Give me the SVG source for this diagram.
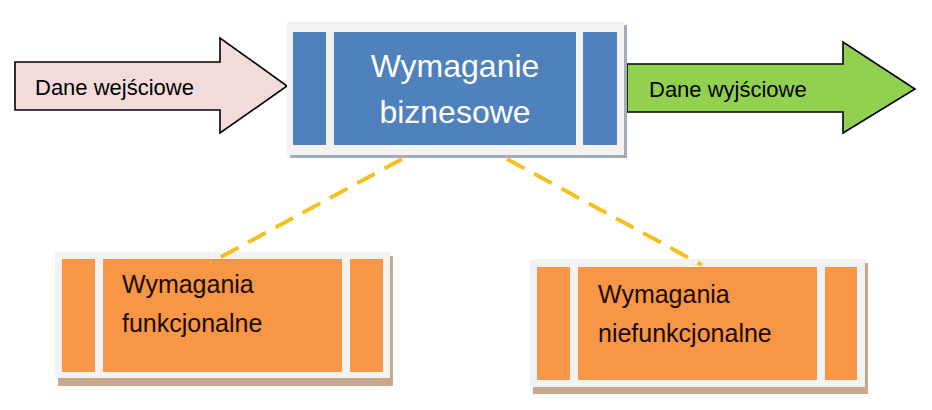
<svg xmlns="http://www.w3.org/2000/svg" width="932" height="410" viewBox="0 0 932 410">
<style>
.frame{fill:#f2f2f2}
.blue{fill:#4f81bd}
.orange{fill:#f79646}
.arrow{stroke:#000;stroke-width:1.6;stroke-linejoin:miter}
.t{font-family:"Liberation Sans",Arial,sans-serif}
.conn{stroke:#f5c01e;stroke-width:4;stroke-dasharray:20 11;fill:none}
</style>
<rect width="932" height="410" fill="#fff"/>
<g id="input">
<polygon class="arrow" fill="#f2dcdb" points="15,62 220,62 220,38 287,86 220,133 220,110 15,110"/>
<text class="t" x="35" y="95" font-size="22" fill="#000">Dane wejściowe</text>
</g>
<g id="output">
<polygon class="arrow" fill="#92d050" points="627,64 843,64 843,42 915,89 843,133 843,112 627,112"/>
<text class="t" x="649" y="97" font-size="22" fill="#000">Dane wyjściowe</text>
</g>
<g id="business">
<rect x="290" y="25" width="337" height="133" fill="#a3acb9"/>
<rect class="frame" x="287" y="22" width="337" height="133"/>
<rect class="blue" x="293" y="32" width="33" height="113"/>
<rect class="blue" x="334" y="32" width="242" height="113"/>
<rect class="blue" x="583" y="32" width="34" height="113"/>
<text class="t" x="455" y="77" font-size="32" fill="#fff" text-anchor="middle">Wymaganie</text>
<text class="t" x="455" y="123" font-size="32" fill="#fff" text-anchor="middle">biznesowe</text>
</g>
<g id="functional">
<rect x="58" y="256" width="335" height="130" fill="#c9a78c"/>
<rect class="frame" x="55" y="252" width="335" height="126"/>
<rect class="orange" x="62" y="259" width="33" height="113"/>
<rect class="orange" x="103" y="259" width="239" height="113"/>
<rect class="orange" x="350" y="259" width="33" height="113"/>
<text class="t" x="122" y="293" font-size="25" fill="#1a0a00">Wymagania</text>
<text class="t" x="122" y="332" font-size="25" fill="#1a0a00">funkcjonalne</text>
</g>
<g id="nonfunctional">
<rect x="533" y="263" width="335" height="131" fill="#c9a78c"/>
<rect class="frame" x="530" y="259" width="335" height="128"/>
<rect class="orange" x="537" y="267" width="33" height="113"/>
<rect class="orange" x="578" y="267" width="239" height="113"/>
<rect class="orange" x="825" y="267" width="32" height="113"/>
<text class="t" x="598" y="303" font-size="25" fill="#1a0a00">Wymagania</text>
<text class="t" x="598" y="342" font-size="25" fill="#1a0a00">niefunkcjonalne</text>
</g>
<g id="connectors">
<line class="conn" x1="402" y1="159" x2="210" y2="263"/>
<line class="conn" x1="507" y1="159" x2="702" y2="265"/>
</g>
</svg>
